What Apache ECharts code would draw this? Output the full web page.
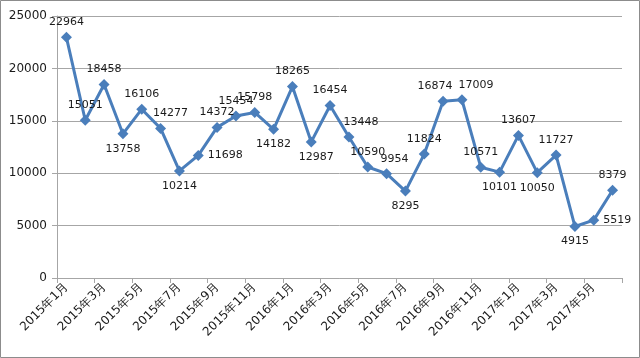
<!DOCTYPE html>
<html><head><meta charset="utf-8">
<script src="https://cdn.jsdelivr.net/npm/echarts@6/dist/echarts.min.js"></script>
<style>html,body{margin:0;padding:0;background:#fff}#c{width:640px;height:358px}</style>
</head><body><div id="c"></div>
<script>
const categories = ['2015年1月','2015年2月','2015年3月','2015年4月','2015年5月','2015年6月','2015年7月','2015年8月','2015年9月','2015年10月','2015年11月','2015年12月',
'2016年1月','2016年2月','2016年3月','2016年4月','2016年5月','2016年6月','2016年7月','2016年8月','2016年9月','2016年10月','2016年11月','2016年12月',
'2017年1月','2017年2月','2017年3月','2017年4月','2017年5月','2017年6月'];
const values = [22964,15051,18458,13758,16106,14277,10214,11698,14372,15454,15798,14182,18265,12987,16454,13448,10590,9954,8295,11824,16874,17009,10571,10101,13607,10050,11727,4915,5519,8379];
const labelPos = ['top','top','top','bottom','top','top','bottom','right','top','top','top','bottom','top','bottom','top','top','top','top','bottom','top','top','top','top','bottom','top','bottom','top','bottom','right','top'];
const labelOffset = {5:[10,0],13:[5,0],15:[12,0],17:[8,0],20:[-8,0],21:[14,0]};

const data = values.map((v,i)=>({value:v,label:{position:labelPos[i],offset:labelOffset[i]||[0,0]}}));
const chart = echarts.init(document.getElementById('c'));
chart.setOption({
  animation:false,
  graphic:[{type:'rect',shape:{x:0.5,y:0.5,width:639,height:357},style:{fill:'none',stroke:'#8c8c8c',lineWidth:1}}],
  grid:{left:57,right:18,top:16,bottom:80},
  xAxis:{type:'category',data:categories,boundaryGap:true,
    axisLine:{lineStyle:{color:'#a6a6a6',width:1}},
    axisTick:{show:true,interval:1,length:5,lineStyle:{color:'#a6a6a6'}},
    axisLabel:{interval:1,rotate:45,fontSize:12,color:'#1a1a1a',fontFamily:'DejaVu Sans',margin:7}},
  yAxis:{type:'value',min:0,max:25000,interval:5000,
    axisLine:{show:true,lineStyle:{color:'#a6a6a6'}},
    axisTick:{show:true,length:5,lineStyle:{color:'#a6a6a6'}},
    splitLine:{lineStyle:{color:'#a6a6a6'}},
    axisLabel:{fontSize:12,color:'#1a1a1a',fontFamily:'DejaVu Sans',margin:10,formatter:v=>String(v)}},
  series:[{type:'line',data:data,symbol:'diamond',symbolSize:11,
    lineStyle:{color:'#4a7ebb',width:3},itemStyle:{color:'#4a7ebb'},
    label:{show:true,fontSize:11,color:'#1a1a1a',fontFamily:'DejaVu Sans',distance:4,formatter:p=>String(p.value)}}]
});
</script></body></html>
